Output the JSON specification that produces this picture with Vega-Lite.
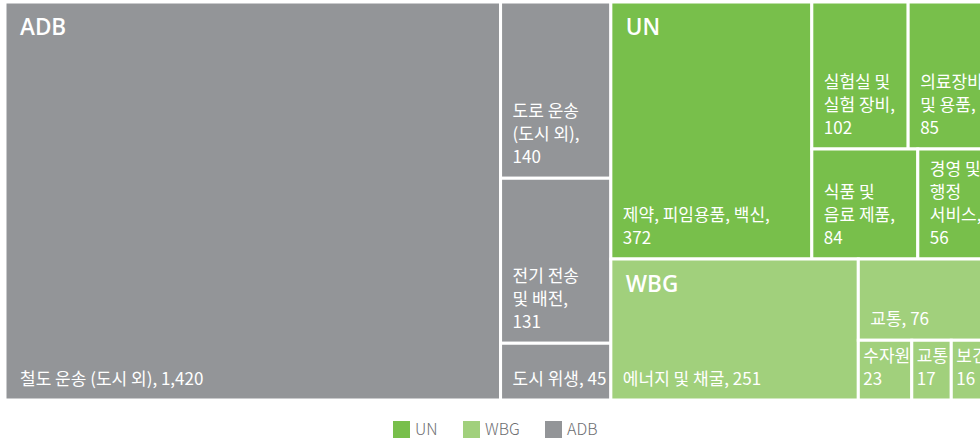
{
  "$schema": "https://vega.github.io/schema/vega-lite/v6.json",
  "width": 975,
  "height": 398,
  "padding": {"left": 5, "top": 2, "right": 0, "bottom": 0},
  "background": "white",
  "config": {"view": {"stroke": null}},
  "data": {
    "values": [
      {"col": "A", "group": "ADB", "part": 1, "row": 1, "cell": 1, "name": "철도 운송 (도시 외)", "value": 1420, "label": "철도 운송 (도시 외), 1,420"},
      {"col": "A", "group": "ADB", "part": 2, "row": 1, "cell": 1, "name": "도로 운송 (도시 외)", "value": 140, "label": "도로 운송\n(도시 외),\n140"},
      {"col": "A", "group": "ADB", "part": 2, "row": 2, "cell": 1, "name": "전기 전송 및 배전", "value": 131, "label": "전기 전송\n및 배전,\n131"},
      {"col": "A", "group": "ADB", "part": 2, "row": 3, "cell": 1, "name": "도시 위생", "value": 45, "label": "도시 위생, 45"},
      {"col": "B", "group": "UN", "part": 1, "row": 1, "cell": 1, "name": "제약, 피임용품, 백신", "value": 372, "label": "제약, 피임용품, 백신,\n372"},
      {"col": "B", "group": "UN", "part": 2, "row": 1, "cell": 1, "name": "실험실 및 실험 장비", "value": 102, "label": "실험실 및\n실험 장비,\n102"},
      {"col": "B", "group": "UN", "part": 2, "row": 1, "cell": 2, "name": "의료장비 및 용품", "value": 85, "label": "의료장비\n및 용품,\n85"},
      {"col": "B", "group": "UN", "part": 2, "row": 2, "cell": 1, "name": "식품 및 음료 제품", "value": 84, "label": "식품 및\n음료 제품,\n84"},
      {"col": "B", "group": "UN", "part": 2, "row": 2, "cell": 2, "name": "경영 및 행정 서비스", "value": 56, "label": "경영 및\n행정\n서비스,\n56"},
      {"col": "B", "group": "WBG", "part": 1, "row": 1, "cell": 1, "name": "에너지 및 채굴", "value": 251, "label": "에너지 및 채굴, 251"},
      {"col": "B", "group": "WBG", "part": 2, "row": 1, "cell": 1, "name": "교통", "value": 76, "label": "교통, 76"},
      {"col": "B", "group": "WBG", "part": 2, "row": 2, "cell": 1, "name": "수자원", "value": 23, "label": "수자원\n23"},
      {"col": "B", "group": "WBG", "part": 2, "row": 2, "cell": 2, "name": "교통", "value": 17, "label": "교통\n17"},
      {"col": "B", "group": "WBG", "part": 2, "row": 2, "cell": 3, "name": "보건", "value": 16, "label": "보건\n16"}
    ]
  },
  "transform": [
    {"joinaggregate": [{"op": "sum", "field": "value", "as": "total"}]},
    {"stack": "value", "groupby": [], "sort": [{"field": "col", "order": "ascending"}, {"field": "group", "order": "ascending"}, {"field": "part", "order": "ascending"}, {"field": "row", "order": "ascending"}, {"field": "cell", "order": "ascending"}], "as": ["s1a", "s1b"]},
    {"joinaggregate": [{"op": "min", "field": "s1a", "as": "c0"}, {"op": "max", "field": "s1b", "as": "c1"}], "groupby": ["col"]},
    {"stack": "value", "groupby": ["col"], "sort": [{"field": "group", "order": "ascending"}, {"field": "part", "order": "ascending"}, {"field": "row", "order": "ascending"}, {"field": "cell", "order": "ascending"}], "as": ["s2a", "s2b"]},
    {"joinaggregate": [{"op": "min", "field": "s2a", "as": "g0"}, {"op": "max", "field": "s2b", "as": "g1"}], "groupby": ["col", "group"]},
    {"stack": "value", "groupby": ["col", "group"], "sort": [{"field": "part", "order": "ascending"}, {"field": "row", "order": "ascending"}, {"field": "cell", "order": "ascending"}], "as": ["s3a", "s3b"]},
    {"joinaggregate": [{"op": "min", "field": "s3a", "as": "p0"}, {"op": "max", "field": "s3b", "as": "p1"}], "groupby": ["col", "group", "part"]},
    {"stack": "value", "groupby": ["col", "group", "part"], "sort": [{"field": "row", "order": "ascending"}, {"field": "cell", "order": "ascending"}], "as": ["s4a", "s4b"]},
    {"joinaggregate": [{"op": "min", "field": "s4a", "as": "r0"}, {"op": "max", "field": "s4b", "as": "r1"}], "groupby": ["col", "group", "part", "row"]},
    {"stack": "value", "groupby": ["col", "group", "part", "row"], "sort": [{"field": "cell", "order": "ascending"}], "as": ["s5a", "s5b"]},
    {"calculate": "datum.c0 / datum.total", "as": "X1a"},
    {"calculate": "datum.c1 / datum.total", "as": "X1b"},
    {"calculate": "datum.X1a + (datum.X1b - datum.X1a) * datum.p0 / (datum.g1 - datum.g0)", "as": "X3a"},
    {"calculate": "datum.X1a + (datum.X1b - datum.X1a) * datum.p1 / (datum.g1 - datum.g0)", "as": "X3b"},
    {"calculate": "datum.X3a + (datum.X3b - datum.X3a) * datum.s5a / (datum.r1 - datum.r0)", "as": "xa"},
    {"calculate": "datum.X3a + (datum.X3b - datum.X3a) * datum.s5b / (datum.r1 - datum.r0)", "as": "xb"},
    {"calculate": "datum.g0 / (datum.c1 - datum.c0)", "as": "Y2a"},
    {"calculate": "datum.g1 / (datum.c1 - datum.c0)", "as": "Y2b"},
    {"calculate": "datum.Y2a + (datum.Y2b - datum.Y2a) * datum.r0 / (datum.p1 - datum.p0)", "as": "ya"},
    {"calculate": "datum.Y2a + (datum.Y2b - datum.Y2a) * datum.r1 / (datum.p1 - datum.p0)", "as": "yb"}
  ],
  "encoding": {
    "x": {"field": "xa", "type": "quantitative", "scale": {"domain": [0, 0.9914], "nice": false, "zero": false}, "axis": null},
    "y": {"field": "ya", "type": "quantitative", "scale": {"domain": [0, 1], "nice": false, "zero": false, "reverse": true}, "axis": null}
  },
  "layer": [
    {
      "mark": {"type": "rect", "stroke": "white", "strokeWidth": 3, "clip": true},
      "encoding": {
        "x2": {"field": "xb"},
        "y2": {"field": "yb"},
        "color": {
          "field": "group", "type": "nominal",
          "scale": {"domain": ["UN", "WBG", "ADB"], "range": ["#78bf4b", "#a1d07c", "#939598"]},
          "legend": {
            "title": null, "orient": "none", "legendX": 388, "legendY": 419, "direction": "horizontal",
            "symbolType": "square", "symbolSize": 289, "symbolStrokeWidth": 0, "symbolOpacity": 1,
            "labelFont": "Noto Sans CJK KR", "labelFontSize": 16, "labelFontWeight": 300, "labelColor": "#6d6e71",
            "labelOffset": 5, "columnPadding": 25, "padding": 0
          }
        }
      }
    },
    {
      "mark": {"type": "text", "clip": true, "align": "left", "baseline": "bottom",
        "dx": {"expr": "(datum.xb - datum.xa) > 0.4 ? 15 : ((datum.xb - datum.xa) < 0.07 ? 5 : 12)"},
        "dy": {"expr": "-11 - 23 * (length(split(datum.label, '\\n')) - 1)"},
        "lineBreak": "\n", "lineHeight": 23, "font": "Noto Sans CJK KR", "fontSize": 17, "color": "white"},
      "encoding": {
        "y": {"field": "yb", "type": "quantitative"},
        "text": {"field": "label", "type": "nominal"}
      }
    },
    {
      "transform": [{"filter": "datum.part == 1"}],
      "mark": {"type": "text", "clip": true, "align": "left", "baseline": "alphabetic", "dx": 15, "dy": 33, "font": "Open Sans", "fontWeight": 600, "fontSize": 22.5, "color": "white"},
      "encoding": {
        "text": {"field": "group", "type": "nominal"}
      }
    }
  ]
}
